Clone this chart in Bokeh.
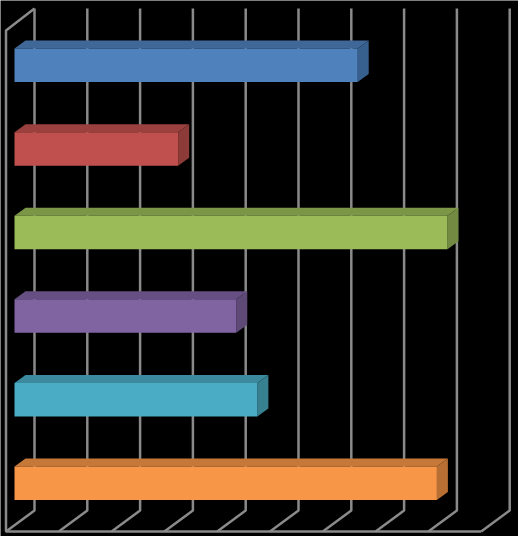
from bokeh.embed import file_html
from bokeh.resources import INLINE
from bokeh.plotting import figure
from bokeh.models import Range1d

W, H = 518, 536

# data
categories = ["A", "B", "C", "D", "E", "F"]
series_values = [6.5, 3.1, 8.2, 4.2, 4.6, 8.0]
front_colors = ["#4F81BD", "#C0504D", "#9BBB59", "#8064A2", "#4BACC6", "#F79646"]
top_colors = ["#3F6797", "#9A403E", "#7C9647", "#664F82", "#3C8A9E", "#C67838"]
side_colors = ["#38608E", "#8C3B38", "#728A41", "#5E4977", "#37808F", "#B86F33"]
ticks = list(range(10))

# layout, in pixels of the picture
PX_PER_UNIT = 52.8
PX_PER_CAT = 83.6
ORIGIN_X = 14.0
ORIGIN_Y = 64.8
BAR_H = 33.5 / PX_PER_CAT
BAR_DX = 11.0 / PX_PER_UNIT
BAR_DY = 8.0 / PX_PER_CAT
WALL_X = (34.0 - ORIGIN_X) / PX_PER_UNIT
FRONT_X = (5.5 - ORIGIN_X) / PX_PER_UNIT
WALL_TOP = (8.0 - ORIGIN_Y) / PX_PER_CAT
WALL_BOTTOM = (510.0 - ORIGIN_Y) / PX_PER_CAT
FRONT_TOP = (30.0 - ORIGIN_Y) / PX_PER_CAT
FRONT_BOTTOM = (531.0 - ORIGIN_Y) / PX_PER_CAT
GRID = "#8A8A8A"

p = figure(
    width=W, height=H, output_backend="svg", toolbar_location=None,
    x_range=Range1d(-ORIGIN_X / PX_PER_UNIT, (W - ORIGIN_X) / PX_PER_UNIT),
    y_range=Range1d((H - ORIGIN_Y) / PX_PER_CAT, -ORIGIN_Y / PX_PER_CAT),
    min_border=0, background_fill_color="black", border_fill_color="black",
    outline_line_color=None,
    styles={"position": "absolute", "left": "0", "top": "0"},
)
p.axis.visible = False
p.grid.visible = False

# back wall gridlines and floor diagonals
xs = [[WALL_X + t, WALL_X + t, FRONT_X + t] for t in ticks]
ys = [[WALL_TOP, WALL_BOTTOM, FRONT_BOTTOM] for _ in ticks]
p.multi_line(xs, ys, line_color=GRID, line_width=2.5)

# left wall and floor front edge
p.line([WALL_X, FRONT_X, FRONT_X, FRONT_X + ticks[-1]],
       [WALL_TOP, FRONT_TOP, FRONT_BOTTOM, FRONT_BOTTOM],
       line_color=GRID, line_width=2.5)

# 3D bars
for i, v in enumerate(series_values):
    t, b = i - BAR_H / 2, i + BAR_H / 2
    p.patch([0, v, v + BAR_DX, BAR_DX], [t, t, t - BAR_DY, t - BAR_DY],
            fill_color=top_colors[i], line_color=None)
    p.patch([v, v + BAR_DX, v + BAR_DX, v], [t, t - BAR_DY, b - BAR_DY, b],
            fill_color=side_colors[i], line_color=None)
    p.quad(left=[0], right=[v], top=[t], bottom=[b],
           fill_color=front_colors[i], line_color=None)

open("out.html", "w").write(file_html(p, INLINE))
